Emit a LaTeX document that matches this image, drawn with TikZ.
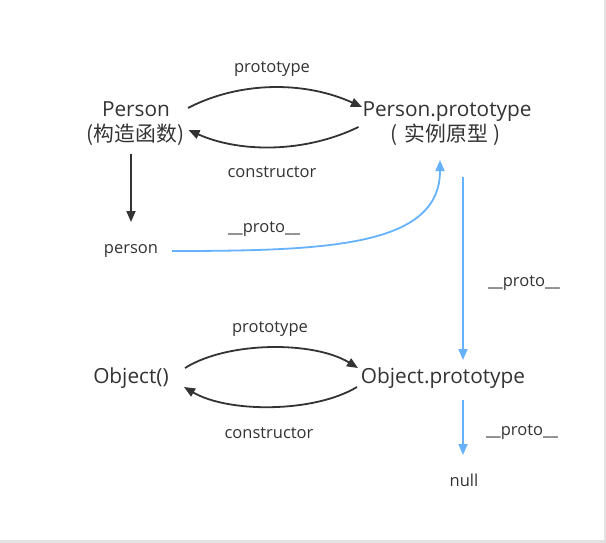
\documentclass[tikz,border=0pt]{standalone}
\usepackage{fontspec}
\setmainfont{Open Sans}
\newfontfamily\cjk{Noto Sans CJK SC}
\usetikzlibrary{arrows.meta}
\definecolor{ink}{RGB}{51,51,51}
\definecolor{blueline}{RGB}{102,178,255}
\definecolor{edge}{RGB}{226,226,226}
\tikzset{
  big/.style={font=\fontsize{20.8}{23}\selectfont, text=ink, inner sep=0pt, anchor=base},
  lbl/.style={font=\fontsize{16.5}{19}\selectfont, text=ink, inner sep=0pt, anchor=base},
  darrow/.style={draw=ink, line width=1.8pt, -{Triangle[length=11pt,width=9pt]}},
  barrow/.style={draw=blueline, line width=1.8pt, -{Triangle[length=11pt,width=9pt]}}
}
\begin{document}
\begin{tikzpicture}[x=1pt,y=-1pt]
\fill[edge] (0,0) rectangle (606,543);
\fill[white] (0,0) rectangle (604,540);
\useasboundingbox (0,0) rectangle (606,543);

% main nodes
\node[big] (P1) at (136,117) {Person};
\node[big] (P2) at (135.5,142) {\cjk (构造函数)};
\node[big] (PP1) at (447,117) {Person.prototype};
\node[big] (PP2) at (445.5,142) {\cjk (\hspace{7pt}实例原型\hspace{5pt})};
\node[lbl] (pers) at (131,253) {person};
\node[big] (O) at (131,383) {Object()};
\node[big] (OP) at (443,383) {Object.prototype};
\node[lbl] (nul) at (464,486) {null};

% labels
\node[lbl] (l1) at (272,73) {prototype};
\node[lbl] (l2) at (272,178) {constructor};
\node[lbl] (l3) at (264,232) {\_\_proto\_\_};
\node[lbl] (l4) at (524,286) {\_\_proto\_\_};
\node[lbl] (l5) at (270,332) {prototype};
\node[lbl] (l6) at (269,438) {constructor};
\node[lbl] (l7) at (522,435) {\_\_proto\_\_};

% Person <-> Person.prototype
\draw[darrow] ([shift={(52,-9)}]P1.base) .. controls (240,81) and (305,81) .. ([shift={(-85,-10)}]PP1.base);
\draw[darrow] ([shift={(-87,-15)}]PP2.base) .. controls (305,153) and (240,153) .. ([shift={(53,-12)}]P2.base);
% Person -> person
\draw[darrow] ([shift={(-4.5,12)}]P2.base) -- ([shift={(0,-31)}]pers.base);
% person -> Person.prototype
\draw[barrow] ([shift={(41,-2)}]pers.base) .. controls (330,251) and (440,246) .. ([shift={(-5.5,18)}]PP2.base);
% Person.prototype -> Object.prototype
\draw[barrow] ([shift={(17.5,35)}]PP2.base) -- ([shift={(20,-23)}]OP.base);
% Object <-> Object.prototype
\draw[darrow] ([shift={(54,-15)}]O.base) .. controls (228,341) and (314,341) .. ([shift={(-85,-15)}]OP.base);
\draw[darrow] ([shift={(-86,4)}]OP.base) .. controls (314,413) and (228,413) .. ([shift={(53,4)}]O.base);
% Object.prototype -> null
\draw[barrow] ([shift={(20,17)}]OP.base) -- ([shift={(-1,-31)}]nul.base);
\end{tikzpicture}
\end{document}
